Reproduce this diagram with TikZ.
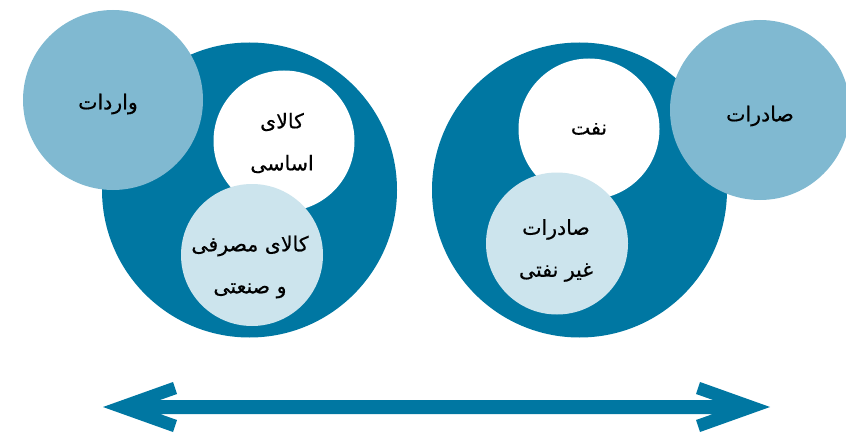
\documentclass[tikz,border=0pt]{standalone}
\usepackage{fontspec}
\usetikzlibrary{calc}
\TeXXeTstate=1
\newfontfamily\fafont[Script=Arabic,FakeBold=0.5]{DejaVu Sans}
\definecolor{deep}{HTML}{0077A2}
\definecolor{mid}{HTML}{80B9D1}
\definecolor{pale}{HTML}{CCE4ED}
\begin{document}
\begin{tikzpicture}[x=1pt,y=-1pt,
  disc/.style={circle,inner sep=0pt,draw=none},
  bigdisc/.style={disc,fill=deep,minimum size=295pt},
  outerdisc/.style={disc,fill=mid,minimum size=180pt},
  whitedisc/.style={disc,fill=white,minimum size=141pt},
  paledisc/.style={disc,fill=pale,minimum size=142pt},
  txt/.style={font=\fafont\fontsize{20.5}{42}\selectfont,align=center,inner sep=0pt,text=black}]
\useasboundingbox (0,0) rectangle (846,433);

% imports group
\node[bigdisc] (impbig) at (249.5,190) {};
\node[outerdisc] (imp) at (113,100) {};
\node[whitedisc] (basic) at (284,141) {};
\node[paledisc] (consumer) at (252,255) {};
\node[txt] (timp) at (108,104) {\beginR واردات\endR};
\node[txt] (tbasic) at (282,143) {\beginR کالای\endR\\\beginR اساسی\endR};
\node[txt] (tconsumer) at (250,267) {\beginR کالای مصرفی\endR\\\beginR و صنعتی\endR};

% exports group
\node[bigdisc] (expbig) at (579.5,190) {};
\node[outerdisc] (exp) at (760,110) {};
\node[whitedisc] (oil) at (589,129) {};
\node[paledisc] (nonoil) at (557,243.5) {};
\node[txt] (texp) at (760,116) {\beginR صادرات\endR};
\node[txt] (toil) at (589,129) {\beginR نفت\endR};
\node[txt] (tnonoil) at (556,250.5) {\beginR صادرات\endR\\\beginR غیر نفتی\endR};

% double-headed arrow
\coordinate (la) at (103,407);
\coordinate (ra) at (770,407);
\fill[deep] (la) -- ++(70,-25) -- ++(4,12) -- ++(-17,6)
  -- ($(ra)+(-57,-7)$) -- ++(-17,-6) -- ++(4,-12) -- (ra)
  -- ++(-70,25) -- ++(-4,-12) -- ++(17,-6)
  -- ($(la)+(57,7)$) -- ++(17,6) -- ++(-4,12) -- cycle;
\end{tikzpicture}
\end{document}
